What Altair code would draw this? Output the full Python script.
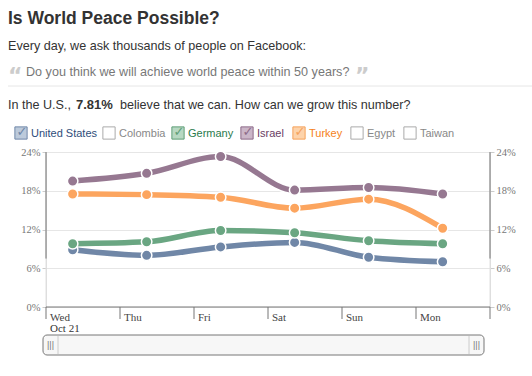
import altair as alt
import pandas as pd

# ---- data ----
days = ["Wed", "Thu", "Fri", "Sat", "Sun", "Mon"]
countries = ["United States", "Germany", "Israel", "Turkey"]
us = [8.85, 8.0, 9.3, 10.0, 7.7, 7.0]
germany = [9.8, 10.1, 11.85, 11.5, 10.25, 9.8]
israel = [19.5, 20.7, 23.3, 18.1, 18.5, 17.5]
turkey = [17.5, 17.4, 17.0, 15.3, 16.7, 12.2]
y_ticks = [0, 6, 12, 18, 24]
x_ticks = [0, 1, 2, 3, 4, 5, 6]
legend_names = ["United States", "Colombia", "Germany", "Israel", "Turkey", "Egypt", "Taiwan"]
legend_checked = [True, False, True, True, True, False, False]

# ---- styles / layout ----
point_colors = ["#2b4a70", "#237548", "#63365b", "#f67f1e"]
line_colors = ["#7087a7", "#6aa682", "#967891", "#fca55f"]
legend_text_colors = ["#2e4d7a", "#888888", "#2a7a4c", "#6a3e64", "#f57f20", "#888888", "#888888"]
legend_fill = ["#bccadb", "#ffffff", "#b7d8c2", "#cbb6c8", "#fdd3ab", "#ffffff", "#ffffff"]
legend_stroke = ["#6f87a8", "#aaaaaa", "#5f9e77", "#8d6b88", "#f5a25c", "#aaaaaa", "#aaaaaa"]
legend_x = [-25, 63, 132, 201, 253, 311, 364]  # box centres relative to plot origin
hour_offset = 0.36

W, H = 444, 155
SANS = "Liberation Sans"
SERIF = "Liberation Serif"

rows = []
for c, vals in zip(countries, [us, germany, israel, turkey]):
    for i, v in enumerate(vals):
        rows.append({"country": c, "t": i + hour_offset, "value": v})
df = pd.DataFrame(rows)

x_scale = alt.Scale(domain=[0, 6], nice=False, zero=False)
y_scale = alt.Scale(domain=[0, 24], nice=False)

def X(field):
    return alt.X(field, scale=x_scale, axis=None, title=None)

def Y(field):
    return alt.Y(field, scale=y_scale, axis=None, title=None)

base = alt.Chart(df)

# y axes + grid
grid_df = pd.DataFrame({"v": y_ticks})
left_axis = alt.Chart(grid_df).mark_point(opacity=0).encode(
    y=alt.Y("v:Q", scale=y_scale, title=None,
            axis=alt.Axis(values=y_ticks, orient="left", labelExpr="datum.value + '%'",
                          grid=True, gridColor="#e6e6e6", domain=False,
                          tickColor="#cccccc", tickSize=4, labelPadding=2,
                          labelFont=SERIF, labelFontSize=10.5, labelColor="#777777")),
    x=alt.X("v:Q", scale=x_scale, title=None, axis=None),
)
right_axis = alt.Chart(grid_df).mark_point(opacity=0).encode(
    y=alt.Y("v:Q", scale=y_scale, title=None,
            axis=alt.Axis(values=y_ticks, orient="right", labelExpr="datum.value + '%'",
                          grid=False, domain=False,
                          tickColor="#cccccc", tickSize=4, labelPadding=2,
                          labelFont=SERIF, labelFontSize=10.5, labelColor="#777777")),
)

# vertical axis lines
vl_df = pd.DataFrame({"y0": [0, 7.5], "y1": [24, 24], "c": ["#e0e0e0", "#777777"]})
vlines = []
for xv in [0, W]:
    vlines.append(alt.Chart(vl_df).mark_rule(strokeWidth=1).encode(
        x=alt.value(xv), y=Y("y0:Q"), y2="y1:Q",
        color=alt.Color("c:N", scale=None)))

# x axis: baseline + day-boundary ticks
x_base = alt.Chart(pd.DataFrame({"a": [0]})).mark_rule(color="#777777").encode(
    x=alt.value(0), x2=alt.value(W), y=alt.value(H))
x_tick_marks = alt.Chart(pd.DataFrame({"d": x_ticks})).mark_rule(color="#777777").encode(
    x=X("d:Q"), y=alt.value(H), y2=alt.value(H + 12))

color_pts = alt.Scale(domain=countries, range=point_colors)
color_lines = alt.Scale(domain=countries, range=line_colors)

halo = base.mark_line(interpolate="monotone", strokeWidth=9, color="white").encode(
    x=X("t:Q"), y=Y("value:Q"), detail="country:N")
lines = base.mark_line(interpolate="monotone", strokeWidth=5.5).encode(
    x=X("t:Q"), y=Y("value:Q"),
    color=alt.Color("country:N", scale=color_lines, legend=None))
points = base.mark_circle(size=110, opacity=1, stroke="white", strokeWidth=1.5).encode(
    x=X("t:Q"), y=Y("value:Q"),
    color=alt.Color("country:N", scale=color_pts, legend=None))

# day labels
day_df = pd.DataFrame({"d": list(range(len(days))), "name": days})
day_labels = alt.Chart(day_df).mark_text(align="left", baseline="middle", dx=4,
                                         font=SERIF, fontSize=11, color="#444444").encode(
    x=X("d:Q"), y=alt.value(166), text="name:N")
date_label = alt.Chart(pd.DataFrame({"s": ["Oct 21"]})).mark_text(
    align="left", baseline="middle", font=SERIF, fontSize=11, color="#333333").encode(
    x=alt.value(4), y=alt.value(177), text="s:N")

# header texts
def txt(s, x, y, size=12.5, weight="normal", color="#333333", font=SANS):
    return alt.Chart(pd.DataFrame({"s": [s]})).mark_text(
        align="left", baseline="alphabetic", font=font, fontSize=size,
        fontWeight=weight, color=color).encode(x=alt.value(x), y=alt.value(y), text="s:N")

title = txt("Is World Peace Possible?", -38, -128, size=17.5, weight="bold", color="#333333")
subtitle = txt("Every day, we ask thousands of people on Facebook:", -38, -102, size=12.6)
q_open = txt("\u201c", -38, -69, size=22, weight="bold", color="#cccccc", font="DejaVu Sans")
question = txt("Do you think we will achieve world peace within 50 years?", -20, -76,
               size=12.6, color="#777777")
q_close = txt("\u201d", 309, -69, size=22, weight="bold", color="#cccccc", font="DejaVu Sans")
sep = alt.Chart(pd.DataFrame({"a": [0]})).mark_rule(color="#e6e6e6").encode(
    x=alt.value(-38), x2=alt.value(486), y=alt.value(-66))
stat1 = txt("In the U.S.,", -38, -43, size=12.6)
stat2 = txt("7.81%", 30, -43, size=13, weight="bold")
stat3 = txt("believe that we can. How can we grow this number?", 74, -43, size=12.6)

# legend (checkboxes)
leg_df = pd.DataFrame({"name": legend_names, "checked": legend_checked,
                       "lx": legend_x, "fill": legend_fill, "stroke": legend_stroke,
                       "tc": legend_text_colors})
leg_df["mark"] = ["\u2713" if c else "" for c in legend_checked]
boxes = alt.Chart(leg_df).mark_square(size=150, opacity=1, strokeWidth=1).encode(
    x=alt.X("lx:Q", scale=None, axis=None), y=alt.value(-19),
    fill=alt.Fill("fill:N", scale=None), stroke=alt.Stroke("stroke:N", scale=None))
checks = alt.Chart(leg_df).mark_text(font="DejaVu Sans", fontSize=13, fontWeight="bold",
                                     baseline="middle", align="center", dx=1, dy=-1).encode(
    x=alt.X("lx:Q", scale=None, axis=None), y=alt.value(-19), text="mark:N",
    color=alt.Color("stroke:N", scale=None))
leg_text = alt.Chart(leg_df).mark_text(font=SANS, fontSize=11, align="left",
                                       baseline="middle", dx=10).encode(
    x=alt.X("lx:Q", scale=None, axis=None), y=alt.value(-18), text="name:N",
    color=alt.Color("tc:N", scale=None))

# scrollbar
sb = alt.Chart(pd.DataFrame({"a": [0]})).mark_rect(
    cornerRadius=4, fill="#f7f7f7", stroke="#777777", strokeWidth=1).encode(
    x=alt.value(-3), x2=alt.value(438), y=alt.value(183), y2=alt.value(203))
sb_div = alt.Chart(pd.DataFrame({"xv": [12, 423]})).mark_rule(color="#cccccc").encode(
    x=alt.X("xv:Q", scale=None, axis=None), y=alt.value(184), y2=alt.value(202))
sb_grip = alt.Chart(pd.DataFrame({"xv": [4.5, 430.5], "s": ["|||", "|||"]})).mark_text(
    font=SANS, fontSize=9, color="#777777", baseline="middle", align="center").encode(
    x=alt.X("xv:Q", scale=None, axis=None), y=alt.value(193), text="s:N")

chart = alt.layer(
    left_axis, right_axis, *vlines, x_base, x_tick_marks, halo, lines, points,
    day_labels, date_label,
    title, subtitle, q_open, question, q_close, sep, stat1, stat2, stat3,
    boxes, checks, leg_text, sb, sb_div, sb_grip,
).resolve_axis(y="independent").properties(
    width=W, height=H,
    autosize=alt.AutoSizeParams(type="none"),
    padding={"left": 46, "top": 152, "right": 42, "bottom": 69},
).configure_view(stroke=None).configure(background="white")

chart.save("out.html", embed_options={"renderer": "svg", "actions": False})
